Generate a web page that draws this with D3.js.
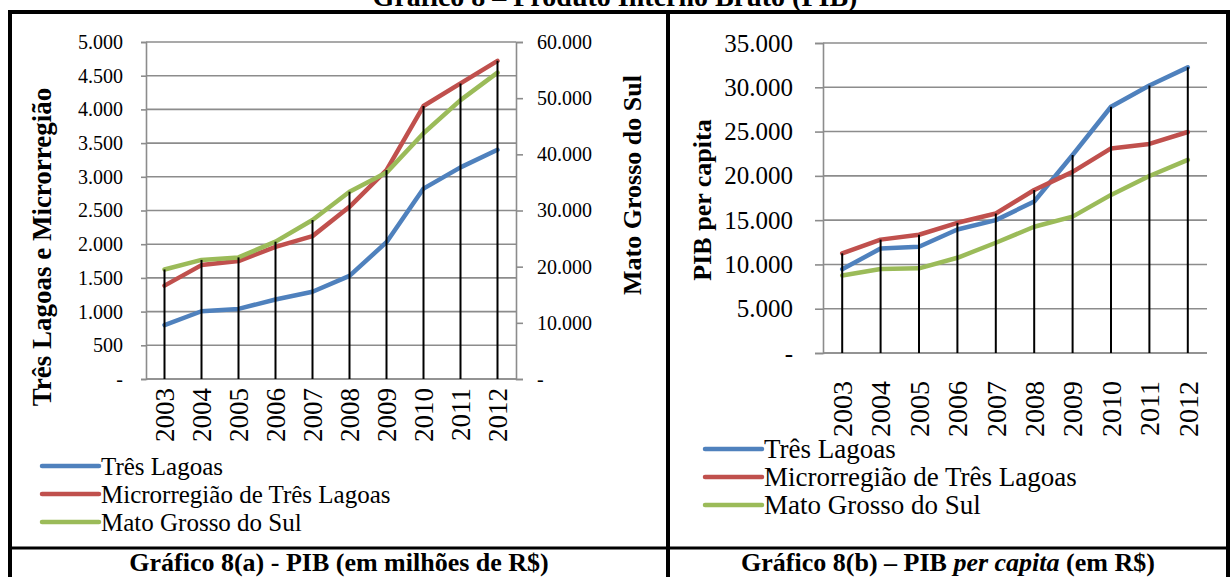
<!DOCTYPE html>
<html><head><meta charset="utf-8">
<script src="https://cdn.jsdelivr.net/npm/d3@7"></script>
<style>body{margin:0;background:#fff}svg{display:block}</style>
</head><body>
<svg id="c" width="1230" height="577"></svg>
<script>
const years = ["2003","2004","2005","2006","2007","2008","2009","2010","2011","2012"];
const seriesNames = ["Três Lagoas","Microrregião de Três Lagoas","Mato Grosso do Sul"];
const colors = ["#4F81BD","#C0504D","#9BBB59"];
// Gráfico 8(a) PIB (milhões R$)
const pibTresLagoas = [800,1005,1040,1180,1295,1530,2030,2825,3140,3400];
const pibMicro = [1385,1690,1750,1960,2120,2555,3100,4050,4385,4720];
const pibMS = [19500,21200,21650,24450,28300,33350,36750,43750,49650,54550]; // secondary axis
const leftTicks = [0,500,1000,1500,2000,2500,3000,3500,4000,4500,5000];
const rightTicks = [0,10000,20000,30000,40000,50000,60000];
// Gráfico 8(b) PIB per capita (R$)
const pcTresLagoas = [9450,11800,12000,13950,15000,17100,22350,27800,30200,32250];
const pcMicro = [11250,12800,13350,14700,15750,18400,20450,23100,23600,24950];
const pcMS = [8750,9480,9560,10750,12450,14250,15400,17850,19980,21800];
const pcTicks = [0,5000,10000,15000,20000,25000,30000,35000];

const FONT = "'Liberation Serif', 'Times New Roman', serif";
const svg = d3.select("#c");
const fmt = v => v === 0 ? "-" : d3.format(",")(v).replace(/,/g, ".");

// title (cut off at top, as in the source)
svg.append("text").attr("x",615).attr("y",6).attr("text-anchor","middle")
  .attr("font-weight","bold").attr("font-size",28).text("Gráfico 8 – Produto Interno Bruto (PIB)");

function drawChart(o){
  const g = svg.append("g");
  const x = d3.scaleBand().domain(years).range([o.x0,o.x1]);
  const y = d3.scaleLinear().domain([0,o.yMax]).range([o.yb,o.yt]);
  const y2 = o.y2Max ? d3.scaleLinear().domain([0,o.y2Max]).range([o.yb,o.yt]) : null;
  g.append("g").selectAll("line").data(o.ticks).join("line")
    .attr("x1",o.x0).attr("x2",o.x1).attr("y1",d=>y(d)).attr("y2",d=>y(d))
    .attr("stroke","#8c8c8c").attr("stroke-width",1.6);
  const ax = g.append("g").attr("transform",`translate(${o.x0},0)`)
    .call(d3.axisLeft(y).tickValues(o.ticks).tickSize(o.tickLen).tickPadding(o.pad).tickFormat(fmt));
  ax.select(".domain").attr("stroke","#8c8c8c").attr("stroke-width",1.6);
  ax.selectAll(".tick line").attr("stroke","#8c8c8c").attr("stroke-width",1.6);
  ax.selectAll("text").attr("font-size",o.tickFont).attr("fill","#000");
  if(y2){
    const ax2 = g.append("g").attr("transform",`translate(${o.x1},0)`)
      .call(d3.axisRight(y2).tickValues(rightTicks).tickSize(7).tickPadding(14).tickFormat(fmt));
    ax2.select(".domain").attr("stroke","#8c8c8c").attr("stroke-width",1.6);
    ax2.selectAll(".tick line").attr("stroke","#8c8c8c").attr("stroke-width",1.6);
    ax2.selectAll("text").attr("font-size",o.tickFont).attr("fill","#000");
  }
  g.append("line").attr("x1",o.x0).attr("x2",o.x1).attr("y1",o.yb).attr("y2",o.yb)
    .attr("stroke","#8c8c8c").attr("stroke-width",1.6);
  g.append("g").selectAll("text").data(years).join("text")
    .attr("transform",d=>`translate(${x(d)+x.bandwidth()/2},${o.yb+o.xLabOff}) rotate(-90)`)
    .attr("text-anchor","end").attr("dy","0.35em").attr("font-size",o.xFont).text(d=>d);
  const scales = o.data.map((s,i)=> (y2 && i===2) ? y2 : y);
  const line = (sc)=> d3.line().x((d,i)=>x(years[i])+x.bandwidth()/2).y(d=>sc(d));
  o.data.forEach((s,i)=>{
    g.append("path").attr("d",line(scales[i])(s)).attr("fill","none")
      .attr("stroke",colors[i]).attr("stroke-width",4.5).attr("stroke-linejoin","round").attr("stroke-linecap","round");
  });
  g.append("g").selectAll("line").data(years).join("line")
    .attr("x1",d=>x(d)+x.bandwidth()/2).attr("x2",d=>x(d)+x.bandwidth()/2)
    .attr("y1",(d,i)=>d3.min(o.data.map((s,k)=>scales[k](s[i]))))
    .attr("y2",o.yb).attr("stroke","#000").attr("stroke-width",2);
  o.titles.forEach(t=>{
    g.append("text").attr("transform",`translate(${t.x},${t.y}) rotate(-90)`)
      .attr("text-anchor","middle").attr("dy","0.35em").attr("font-weight","bold")
      .attr("font-size",t.size).text(t.text);
  });
  seriesNames.forEach((n,i)=>{
    const ly = o.leg.y + i*o.leg.dy;
    g.append("line").attr("x1",o.leg.x).attr("x2",o.leg.x+o.leg.len).attr("y1",ly).attr("y2",ly)
      .attr("stroke",colors[i]).attr("stroke-width",4.5).attr("stroke-linecap","round");
    g.append("text").attr("x",o.leg.x+o.leg.len+2).attr("y",ly).attr("dy","0.35em")
      .attr("font-size",o.leg.size).text(n);
  });
}

drawChart({x0:146,x1:516,yt:42,yb:379,yMax:5000,y2Max:60000,ticks:leftTicks,tickLen:5,pad:18,tickFont:20,
  xFont:27,xLabOff:9,data:[pibTresLagoas,pibMicro,pibMS],
  titles:[{x:42,y:247,size:27,text:"Três Lagoas e Microrregião"},{x:632,y:185,size:26,text:"Mato Grosso do Sul"}],
  leg:{x:42,y:466,dy:28,len:57,size:25}});
drawChart({x0:823,x1:1207,yt:43,yb:353,yMax:35000,ticks:pcTicks,tickLen:8,pad:22,tickFont:25,
  xFont:28,xLabOff:28,data:[pcTresLagoas,pcMicro,pcMS],
  titles:[{x:702,y:200,size:26,text:"PIB per capita"}],
  leg:{x:705,y:449,dy:28,len:57,size:27}});

const B = svg.append("g").attr("stroke","#000");
B.append("line").attr("x1",8).attr("x2",1230).attr("y1",12).attr("y2",12).attr("stroke-width",4);
B.append("line").attr("x1",10).attr("x2",10).attr("y1",10).attr("y2",577).attr("stroke-width",4);
B.append("line").attr("x1",668).attr("x2",668).attr("y1",10).attr("y2",577).attr("stroke-width",4);
B.append("line").attr("x1",1228).attr("x2",1228).attr("y1",10).attr("y2",577).attr("stroke-width",4);
B.append("line").attr("x1",10).attr("x2",1230).attr("y1",548).attr("y2",548).attr("stroke-width",3);

svg.append("text").attr("x",339).attr("y",571).attr("text-anchor","middle").attr("font-weight","bold")
  .attr("font-size",26).text("Gráfico 8(a) - PIB (em milhões de R$)");
const cap = svg.append("text").attr("x",948).attr("y",571).attr("text-anchor","middle").attr("font-weight","bold").attr("font-size",26);
cap.append("tspan").text("Gráfico 8(b) – PIB ");
cap.append("tspan").attr("font-style","italic").text("per capita");
cap.append("tspan").text(" (em R$)");

svg.selectAll("text").attr("font-family",FONT);
</script>
</body></html>
